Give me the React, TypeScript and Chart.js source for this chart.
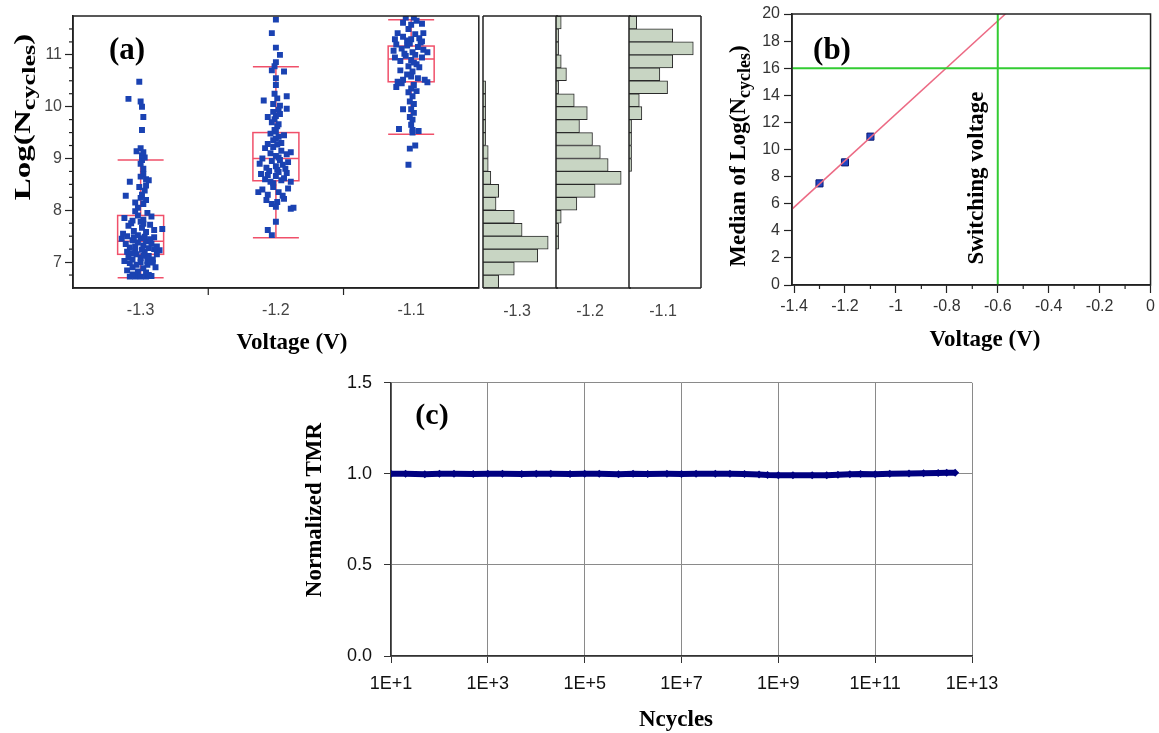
import React, { useEffect, useRef } from 'react';
import { Chart, registerables } from 'chart.js';
Chart.register(...registerables);

// ---------------- Panel (a): scatter + box plots ----------------
const voltageGroups = [-1.3, -1.2, -1.1];
const voltageLabels = ['-1.3', '-1.2', '-1.1'];
// [jitter (V), Log(Ncycles)]
const group13: [number, number][] = [
  [-0.008, 6.72], [-0.004, 6.72], [0.0, 6.72], [0.004, 6.72], [0.008, 6.73], [-0.006, 6.76], [0.006, 6.75],
  [-0.010, 6.84], [-0.006, 6.90], [-0.002, 6.82], [0.002, 6.88], [0.005, 6.95], [0.009, 6.99], [0.011, 6.90], [-0.008, 6.98], [0.0, 7.0], [-0.003, 6.95], [0.004, 6.80],
  [-0.012, 7.02], [-0.009, 7.10], [-0.006, 7.05], [-0.003, 7.15], [0.0, 7.08], [0.003, 7.20], [0.006, 7.12], [0.009, 7.05], [0.012, 7.15], [0.014, 7.23], [-0.010, 7.20], [-0.004, 7.22], [0.001, 7.24], [0.005, 7.02], [-0.007, 7.17], [0.002, 7.12], [0.010, 7.25],
  [-0.014, 7.45], [-0.011, 7.35], [-0.008, 7.28], [-0.006, 7.42], [-0.004, 7.30], [-0.002, 7.38], [0.0, 7.46], [0.002, 7.32], [0.004, 7.40], [0.006, 7.27], [0.008, 7.36], [0.010, 7.48], [0.012, 7.30], [-0.010, 7.50], [-0.005, 7.48], [0.003, 7.49], [0.007, 7.44],
  [-0.013, 7.55], [-0.009, 7.70], [-0.005, 7.60], [-0.002, 7.52], [0.001, 7.66], [0.004, 7.58], [0.007, 7.72], [0.010, 7.62], [0.016, 7.64], [-0.007, 7.75], [0.002, 7.74],
  [-0.012, 7.85], [-0.006, 7.80], [-0.002, 7.90], [0.002, 7.82], [0.005, 7.95], [0.008, 7.88], [-0.004, 7.98], [0.0, 7.78],
  [-0.002, 8.05], [0.002, 8.12], [0.004, 8.20], [-0.004, 8.15], [0.0, 8.24],
  [-0.011, 8.28], [0.001, 8.30], [0.003, 8.38], [-0.001, 8.45], [0.004, 8.48],
  [-0.008, 8.55], [0.004, 8.60], [0.006, 8.58], [0.002, 8.70], [0.0, 8.65],
  [0.002, 8.80], [0.0, 8.90], [0.001, 8.97], [0.003, 9.02],
  [0.001, 9.06], [-0.003, 9.14], [0.0, 9.20], [0.002, 9.12],
  [0.001, 9.55], [0.002, 9.80], [0.001, 10.0], [0.0, 10.10], [-0.009, 10.15], [-0.001, 10.48],
];
const group12: [number, number][] = [
  [0.0, 11.68], [-0.003, 11.42], [0.0, 11.14], [0.003, 11.0], [0.0, 10.86], [-0.001, 10.78], [-0.003, 10.70], [0.006, 10.68], [0.0, 10.55], [0.0, 10.42],
  [-0.009, 10.12], [0.008, 10.20], [-0.002, 10.05], [0.001, 10.16], [0.003, 10.02], [-0.001, 10.25],
  [0.008, 9.96], [-0.006, 9.80], [-0.002, 9.90], [0.0, 9.82], [0.002, 9.94], [-0.001, 9.76], [0.003, 9.86],
  [-0.003, 9.70], [0.001, 9.62], [-0.001, 9.55], [0.002, 9.66], [0.0, 9.52],
  [-0.004, 9.48], [0.002, 9.42], [-0.002, 9.35], [0.004, 9.30], [0.0, 9.38], [0.006, 9.45], [-0.006, 9.28], [0.001, 9.27],
  [-0.008, 9.20], [-0.004, 9.10], [0.0, 9.05], [0.004, 9.15], [0.008, 9.08], [-0.002, 9.22], [0.002, 9.02], [0.011, 9.12], [-0.010, 9.0],
  [-0.012, 8.90], [-0.007, 8.82], [-0.003, 8.95], [0.001, 8.78], [0.005, 8.88], [0.009, 8.93], [0.0, 8.85], [-0.005, 8.76], [0.003, 8.97], [0.007, 8.80],
  [-0.011, 8.70], [-0.008, 8.60], [-0.004, 8.55], [0.0, 8.66], [0.004, 8.58], [0.008, 8.72], [-0.002, 8.52], [0.002, 8.74], [0.006, 8.62], [-0.006, 8.68], [0.011, 8.55],
  [-0.010, 8.40], [-0.006, 8.30], [-0.002, 8.45], [0.002, 8.35], [0.005, 8.28], [0.009, 8.42], [-0.013, 8.35],
  [-0.007, 8.20], [-0.003, 8.12], [0.001, 8.16], [0.006, 8.22],
  [0.0, 8.07], [0.011, 8.03], [0.013, 8.05], [0.0, 7.78], [-0.006, 7.62], [-0.003, 7.52],
];
const group11: [number, number][] = [
  [-0.004, 11.72], [0.002, 11.72], [0.008, 11.60], [-0.006, 11.62], [0.0, 11.58], [0.004, 11.66], [-0.002, 11.50], [0.009, 11.42], [-0.010, 11.42], [-0.006, 11.35], [0.003, 11.40], [0.0, 11.30], [0.006, 11.32], [-0.003, 11.28], [-0.012, 11.30], [0.008, 11.26],
  [-0.011, 11.20], [-0.007, 11.12], [-0.003, 11.18], [0.001, 11.05], [0.005, 11.15], [0.009, 11.10], [-0.013, 11.08], [0.012, 11.05], [-0.001, 11.22], [0.003, 11.0], [-0.005, 11.02], [0.007, 11.24],
  [-0.012, 10.95], [-0.008, 10.88], [-0.004, 10.98], [0.0, 10.90], [0.004, 10.82], [0.008, 10.95], [-0.002, 10.78], [0.002, 10.85], [0.006, 10.76],
  [-0.008, 10.70], [-0.003, 10.62], [0.001, 10.68], [0.005, 10.55], [0.010, 10.52], [-0.006, 10.52], [0.012, 10.47], [-0.010, 10.48], [0.0, 10.58],
  [-0.011, 10.38], [-0.007, 10.45], [0.0, 10.35], [0.002, 10.42], [-0.002, 10.28], [0.004, 10.30],
  [0.001, 10.20], [-0.001, 10.10], [0.002, 10.05], [-0.006, 9.95],
  [0.0, 9.95], [0.002, 9.88], [-0.001, 9.80], [0.001, 9.75],
  [0.0, 9.65], [0.001, 9.55], [-0.009, 9.57], [0.0055, 9.53], [0.001, 9.50],
  [0.003, 9.25], [-0.001, 9.19], [-0.002, 8.88],
];
const scatterGroups = [group13, group12, group11];
const boxQ1 = [7.15, 8.57, 10.48];
const boxMedian = [7.4, 9.0, 10.92];
const boxQ3 = [7.9, 9.5, 11.17];
const whiskerLow = [6.7, 7.47, 9.47];
const whiskerHigh = [8.97, 10.77, 11.68];
const aYTicks = [7, 8, 9, 10, 11];
const aYMinorTicks = [6.75, 7.25, 7.5, 7.75, 8.25, 8.5, 8.75, 9.25, 9.5, 9.75, 10.25, 10.5, 10.75, 11.25, 11.5];
const aXSeparators = [-1.25, -1.15];

// ---------------- Histograms (counts per 0.25 bin, bottom to top) ----------------
const binStarts = [6.5, 6.75, 7.0, 7.25, 7.5, 7.75, 8.0, 8.25, 8.5, 8.75, 9.0, 9.25, 9.5, 9.75, 10.0, 10.25, 10.5, 10.75, 11.0, 11.25, 11.5];
const hist13 = [6, 12, 21, 25, 15, 12, 5, 6, 3, 2, 2, 1, 1, 1, 1, 1, 0, 0, 0, 0, 0];
const hist12 = [0, 0, 0, 1, 1, 2, 8, 15, 25, 20, 17, 14, 9, 12, 7, 1, 4, 2, 1, 1, 2];
const hist11 = [0, 0, 0, 0, 0, 0, 0, 0, 0, 1, 1, 1, 1, 5, 4, 15, 12, 17, 25, 17, 3];
const histograms = [hist13, hist12, hist11];

// ---------------- Panel (b) ----------------
const medianVoltages = [-1.3, -1.2, -1.1];
const medianLogN = [7.5, 9.05, 10.95];
const fitVoltages = [-1.408, -0.57];
const fitLogN = [5.6, 20];
const criterionLogN = 16;
const switchingVoltage = -0.6;
const bXTicks = [-1.4, -1.2, -1, -0.8, -0.6, -0.4, -0.2, 0];
const bXTickLabels = ['-1.4', '-1.2', '-1', '-0.8', '-0.6', '-0.4', '-0.2', '0'];
const bXMinorTicks = [-1.3, -1.1, -0.9, -0.7, -0.5, -0.3, -0.1];
const bYTicks = [0, 2, 4, 6, 8, 10, 12, 14, 16, 18, 20];

// ---------------- Panel (c) ----------------
const cycles = [1e1, 2e1, 5e1, 1e2, 2e2, 5e2, 1e3, 2e3, 5e3, 1e4, 2e4, 5e4, 1e5, 2e5, 5e5, 1e6, 2e6, 5e6, 1e7, 2e7, 5e7, 1e8, 2e8, 4e8, 6e8, 1e9, 2e9, 5e9, 1e10, 1.7e10, 3e10, 5e10, 1e11, 2e11, 5e11, 1e12, 2e12, 3e12, 4.5e12];
const normalizedTMR = [1.0, 1.0, 0.998, 1.0, 1.0, 0.999, 1.0, 1.0, 0.999, 1.0, 1.0, 0.999, 1.0, 1.0, 0.998, 1.0, 0.999, 1.0, 0.999, 1.0, 1.0, 1.0, 0.999, 0.997, 0.994, 0.993, 0.993, 0.992, 0.993, 0.995, 0.998, 0.999, 0.998, 1.0, 1.002, 1.004, 1.005, 1.006, 1.006];
const cXTicks = [1e1, 1e3, 1e5, 1e7, 1e9, 1e11, 1e13];
const cXTickLabels = ['1E+1', '1E+3', '1E+5', '1E+7', '1E+9', '1E+11', '1E+13'];
const cYTicks = [0, 0.5, 1.0, 1.5];
const cYTickLabels = ['0.0', '0.5', '1.0', '1.5'];

// ---------------- styling helpers ----------------
const SERIF = '"Liberation Serif", "Times New Roman", serif';
const SANS = '"Liberation Sans", Arial, sans-serif';
const BLUE = '#1a42b2';
const BOX_RED = '#f0506a';
const GREEN = '#33cc33';
const NAVY = '#000080';

type Part = { t: string; sub?: boolean };
type TextSpec = { parts: Part[]; x: number; y: number; size: number; rot?: number; bold?: boolean; serif?: boolean; color?: string; sx?: number; subScale?: number };

function drawText(ctx: CanvasRenderingContext2D, s: TextSpec) {
  const fam = s.serif === false ? SANS : SERIF;
  const w = s.bold === false ? '' : 'bold ';
  const mainF = `${w}${s.size}px ${fam}`;
  const subF = `${w}${Math.round(s.size * (s.subScale ?? 0.75))}px ${fam}`;
  ctx.save();
  ctx.translate(s.x, s.y);
  if (s.rot) ctx.rotate(s.rot);
  if (s.sx) ctx.scale(s.sx, 1);
  ctx.fillStyle = s.color ?? '#000';
  ctx.textAlign = 'left';
  ctx.textBaseline = 'alphabetic';
  const widths = s.parts.map((p) => { ctx.font = p.sub ? subF : mainF; return ctx.measureText(p.t).width; });
  const total = widths.reduce((a, b) => a + b, 0);
  let cx = -total / 2;
  s.parts.forEach((p, i) => {
    ctx.font = p.sub ? subF : mainF;
    ctx.fillText(p.t, cx, p.sub ? s.size * 0.55 : s.size * 0.35);
    cx += widths[i];
  });
  ctx.restore();
}

const textPlugin = (texts: TextSpec[]) => ({
  id: 'texts',
  afterDraw(chart: any) { texts.forEach((t) => drawText(chart.ctx, t)); },
});

const minorTicksPlugin = (axisId: string, values: number[], len: number) => ({
  id: 'minor' + axisId,
  afterDraw(chart: any) {
    const s = chart.scales[axisId];
    const a = chart.chartArea;
    const ctx = chart.ctx;
    ctx.save();
    ctx.strokeStyle = '#222';
    ctx.lineWidth = 1.2;
    values.forEach((v) => {
      const p = s.getPixelForValue(v);
      ctx.beginPath();
      if (s.isHorizontal()) { ctx.moveTo(p, a.bottom); ctx.lineTo(p, a.bottom + len); }
      else { ctx.moveTo(a.left, p); ctx.lineTo(a.left - len, p); }
      ctx.stroke();
    });
    ctx.restore();
  },
});

const framePlugin = (color: string, width: number) => ({
  id: 'frame',
  afterDraw(chart: any) {
    const a = chart.chartArea;
    const ctx = chart.ctx;
    ctx.save();
    ctx.strokeStyle = color;
    ctx.lineWidth = width;
    ctx.strokeRect(a.left, a.top, a.right - a.left, a.bottom - a.top);
    ctx.restore();
  },
});

const boxPlugin = {
  id: 'boxes',
  beforeDatasetsDraw(chart: any) {
    const x = chart.scales.x;
    const y = chart.scales.y;
    const ctx = chart.ctx;
    ctx.save();
    ctx.strokeStyle = BOX_RED;
    ctx.lineWidth = 1.5;
    voltageGroups.forEach((v, i) => {
      const l = x.getPixelForValue(v - 0.017);
      const r = x.getPixelForValue(v + 0.017);
      const c = x.getPixelForValue(v);
      const q1 = y.getPixelForValue(boxQ1[i]);
      const q3 = y.getPixelForValue(boxQ3[i]);
      const md = y.getPixelForValue(boxMedian[i]);
      const lo = y.getPixelForValue(whiskerLow[i]);
      const hi = y.getPixelForValue(whiskerHigh[i]);
      ctx.strokeRect(l, q3, r - l, q1 - q3);
      ctx.beginPath();
      ctx.moveTo(l, md); ctx.lineTo(r, md);
      ctx.moveTo(c, q1); ctx.lineTo(c, lo);
      ctx.moveTo(c, q3); ctx.lineTo(c, hi);
      ctx.moveTo(l, lo); ctx.lineTo(r, lo);
      ctx.moveTo(l, hi); ctx.lineTo(r, hi);
      ctx.stroke();
    });
    ctx.restore();
  },
};

const histFramePlugin = (drawRight: boolean) => ({
  id: 'histFrame',
  afterDraw(chart: any) {
    const a = chart.chartArea;
    const ctx = chart.ctx;
    ctx.save();
    ctx.strokeStyle = '#222';
    ctx.lineWidth = 1.5;
    ctx.beginPath();
    ctx.moveTo(a.left, a.top); ctx.lineTo(a.left, a.bottom);
    ctx.moveTo(a.left, a.top); ctx.lineTo(a.right + (drawRight ? 0 : 2), a.top);
    ctx.moveTo(a.left, a.bottom); ctx.lineTo(a.right + (drawRight ? 0 : 2), a.bottom);
    if (drawRight) { ctx.moveTo(a.right, a.top); ctx.lineTo(a.right, a.bottom); }
    ctx.stroke();
    ctx.restore();
  },
});

const baseOptions = {
  responsive: false,
  animation: false,
  events: [] as string[],
  plugins: { legend: { display: false }, tooltip: { enabled: false } },
};

const setTicks = (values: number[]) => (scale: any) => { scale.ticks = values.map((v) => ({ value: v })); };

// ---------------- chart configs ----------------
function configA(): any {
  return {
    type: 'scatter',
    data: {
      datasets: scatterGroups.map((g, i) => ({
        data: g.map(([dx, y]) => ({ x: voltageGroups[i] + dx, y })),
        pointStyle: 'rect',
        pointRadius: 4.2,
        backgroundColor: BLUE,
        borderWidth: 0,
      })),
    },
    options: {
      ...baseOptions,
      layout: { padding: { top: 16, left: 0, right: 0, bottom: 0 } },
      scales: {
        x: {
          type: 'linear', min: -1.35, max: -1.05,
          afterBuildTicks: setTicks(voltageGroups),
          afterFit: (s: any) => { s.height = 72; },
          ticks: { autoSkip: false, maxRotation: 0, padding: 6, color: '#444', font: { family: SANS, size: 16 }, callback: (_v: any, i: number) => voltageLabels[i] },
          grid: { drawOnChartArea: false, tickLength: 7, tickColor: 'rgba(0,0,0,0)' },
          border: { color: '#222', width: 1.5 },
        },
        y: {
          type: 'linear', min: 6.5, max: 11.75,
          afterBuildTicks: setTicks(aYTicks),
          afterFit: (s: any) => { s.width = 73; },
          ticks: { padding: 3, color: '#444', font: { family: SANS, size: 16 }, callback: (v: any) => String(v) },
          grid: { drawOnChartArea: false, tickLength: 8, tickColor: '#222', tickWidth: 1.2 },
          border: { color: '#222', width: 1.5 },
        },
      },
    },
    plugins: [
      boxPlugin,
      framePlugin('#222', 1.5),
      minorTicksPlugin('y', aYMinorTicks, 4),
      minorTicksPlugin('x', aXSeparators, 7),
      textPlugin([
        { parts: [{ t: '(a)' }], x: 127, y: 48, size: 31 },
        { parts: [{ t: 'Log(N' }, { t: 'cycles', sub: true }, { t: ')' }], x: 22, y: 117, size: 24, rot: -Math.PI / 2, sx: 1.38, subScale: 0.8 },
        { parts: [{ t: 'Voltage (V)' }], x: 292, y: 341, size: 23 },
      ]),
    ],
  };
}

function configHist(i: number): any {
  return {
    type: 'bar',
    data: {
      labels: binStarts.map((b) => b.toFixed(2)),
      datasets: [{
        data: histograms[i],
        backgroundColor: '#c8d5c3',
        borderColor: '#2a2a2a',
        borderWidth: 1,
        barPercentage: 1,
        categoryPercentage: 1,
      }],
    },
    options: {
      ...baseOptions,
      indexAxis: 'y',
      layout: { padding: { top: 16, bottom: 42, left: 2, right: 2 } },
      scales: {
        x: { display: false, min: 0, max: 28 },
        y: { display: false, reverse: true },
      },
    },
    plugins: [
      histFramePlugin(i === 2),
      textPlugin([{ parts: [{ t: voltageLabels[i] }], x: 36, y: 310, size: 16, bold: false, serif: false, color: '#444' }]),
    ],
  };
}

function configB(): any {
  return {
    type: 'scatter',
    data: {
      datasets: [
        { data: [{ x: -1.408, y: criterionLogN }, { x: 0, y: criterionLogN }], showLine: true, borderColor: GREEN, borderWidth: 2, pointRadius: 0 },
        { data: [{ x: switchingVoltage, y: 0 }, { x: switchingVoltage, y: 20 }], showLine: true, borderColor: GREEN, borderWidth: 2, pointRadius: 0 },
        { data: fitVoltages.map((v, i) => ({ x: v, y: fitLogN[i] })), showLine: true, borderColor: '#ec6a84', borderWidth: 1.5, pointRadius: 0 },
        { data: medianVoltages.map((v, i) => ({ x: v, y: medianLogN[i] })), pointStyle: 'rect', pointRadius: 5, backgroundColor: '#2244c0', borderColor: '#0c1a70', borderWidth: 1 },
      ],
    },
    options: {
      ...baseOptions,
      layout: { padding: { top: 14, left: 0, right: 4, bottom: 0 } },
      scales: {
        x: {
          type: 'linear', min: -1.408, max: 0,
          afterBuildTicks: setTicks(bXTicks),
          afterFit: (s: any) => { s.height = 75; },
          ticks: { autoSkip: false, maxRotation: 0, padding: 4, color: '#333', font: { family: SANS, size: 16 }, callback: (_v: any, i: number) => bXTickLabels[i] },
          grid: { drawOnChartArea: false, tickLength: 8, tickColor: '#222', tickWidth: 1.2 },
          border: { color: '#222', width: 1.5 },
        },
        y: {
          type: 'linear', min: 0, max: 20,
          afterBuildTicks: setTicks(bYTicks),
          afterFit: (s: any) => { s.width = 92; },
          ticks: { padding: 4, color: '#333', font: { family: SANS, size: 16 }, callback: (v: any) => String(v) },
          grid: { drawOnChartArea: false, tickLength: 8, tickColor: '#222', tickWidth: 1.2 },
          border: { color: '#222', width: 1.5 },
        },
      },
    },
    plugins: [
      framePlugin('#222', 1.5),
      minorTicksPlugin('x', bXMinorTicks, 4),
      textPlugin([
        { parts: [{ t: '(b)' }], x: 132, y: 48, size: 31 },
        { parts: [{ t: 'Median of Log(N' }, { t: 'cycles', sub: true }, { t: ')' }], x: 37, y: 156, size: 23, rot: -Math.PI / 2, subScale: 0.8 },
        { parts: [{ t: 'Switching voltage' }], x: 275, y: 178, size: 23, rot: -Math.PI / 2 },
        { parts: [{ t: 'Voltage (V)' }], x: 285, y: 338, size: 23 },
      ]),
    ],
  };
}

function configC(): any {
  return {
    type: 'line',
    data: {
      datasets: [{
        data: cycles.map((c, i) => ({ x: c, y: normalizedTMR[i] })),
        borderColor: NAVY,
        borderWidth: 6,
        pointStyle: 'rectRot',
        pointRadius: 4,
        pointBackgroundColor: NAVY,
        pointBorderWidth: 0,
      }],
    },
    options: {
      ...baseOptions,
      layout: { padding: { top: 12, left: 0, right: 48, bottom: 0 } },
      scales: {
        x: {
          type: 'logarithmic', min: 1e1, max: 1e13,
          afterBuildTicks: setTicks(cXTicks),
          afterFit: (s: any) => { s.height = 77; },
          ticks: { autoSkip: false, maxRotation: 0, padding: 10, color: '#111', font: { family: SANS, size: 18 }, callback: (_v: any, i: number) => cXTickLabels[i] },
          grid: { color: '#8a8a8a', lineWidth: 1, tickLength: 7, tickColor: '#333' },
          border: { color: '#333', width: 1.5 },
        },
        y: {
          type: 'linear', min: 0, max: 1.5,
          afterBuildTicks: setTicks(cYTicks),
          afterFit: (s: any) => { s.width = 91; },
          ticks: { padding: 12, color: '#111', font: { family: SANS, size: 18 }, callback: (_v: any, i: number) => cYTickLabels[i] },
          grid: { color: '#8a8a8a', lineWidth: 1, tickLength: 7, tickColor: '#333' },
          border: { color: '#333', width: 1.5 },
        },
      },
    },
    plugins: [
      textPlugin([
        { parts: [{ t: '(c)' }], x: 132, y: 53, size: 30 },
        { parts: [{ t: 'Normalized TMR' }], x: 13, y: 150, size: 23, rot: -Math.PI / 2 },
        { parts: [{ t: 'Ncycles' }], x: 376, y: 358, size: 23 },
      ]),
    ],
  };
}

function ChartCanvas({ left, top, width, height, build }: { left: number; top: number; width: number; height: number; build: () => any }) {
  const ref = useRef<HTMLCanvasElement>(null);
  useEffect(() => {
    const chart = new Chart(ref.current as HTMLCanvasElement, build());
    return () => chart.destroy();
  }, []);
  return <canvas ref={ref} width={width} height={height} style={{ position: 'absolute', left, top, width, height }} />;
}

const histAxisX = [483, 556, 629];
const histWidth = [73, 73, 72];

export default function App() {
  return (
    <div style={{ position: 'absolute', left: 0, top: 0, width: 1159, height: 733, background: '#fff', overflow: 'hidden' }}>
      <ChartCanvas left={0} top={0} width={483} height={360} build={configA} />
      {histAxisX.map((x, i) => (
        <ChartCanvas key={i} left={x - 2} top={0} width={histWidth[i] + 4} height={330} build={() => configHist(i)} />
      ))}
      <ChartCanvas left={700} top={0} width={459} height={360} build={configB} />
      <ChartCanvas left={300} top={360} width={720} height={373} build={configC} />
    </div>
  );
}
